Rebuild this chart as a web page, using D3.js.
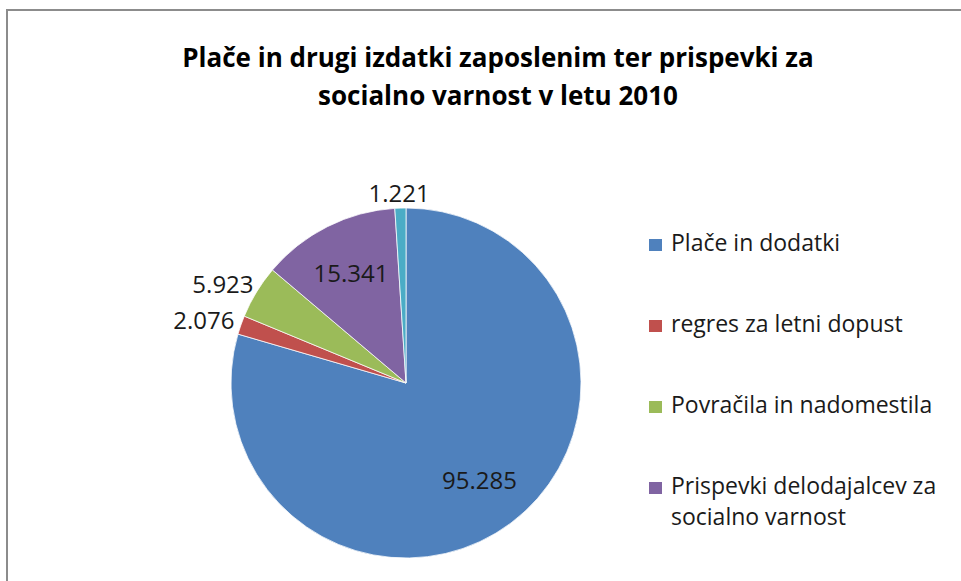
<!DOCTYPE html>
<html>
<head>
<meta charset="utf-8">
<script src="https://cdn.jsdelivr.net/npm/d3@7"></script>
<style>
  body { margin: 0; background: #fff; }
  svg { display: block; font-family: "Open Sans", sans-serif; }
</style>
</head>
<body>
<div class="chart"></div>
<script>
// Data
const titleLines = ["Plače in drugi izdatki zaposlenim ter prispevki za", "socialno varnost v letu 2010"];
const categories = ["Plače in dodatki", "regres za letni dopust", "Povračila in nadomestila", "Prispevki delodajalcev za socialno varnost", "Drugo"];
const values     = [95.285, 2.076, 5.923, 15.341, 1.221];
const labels     = ["95.285", "2.076", "5.923", "15.341", "1.221"];
const colors     = ["#4F81BD", "#C0504D", "#9BBB59", "#8064A2", "#4BACC6"];

const W = 961, H = 581;
const cx = 406, cy = 383, radius = 175;

const svg = d3.select(".chart").append("svg")
    .attr("width", W)
    .attr("height", H);

// chart area border (right/bottom edges fall outside the picture)
svg.append("rect")
    .attr("x", 7).attr("y", 10)
    .attr("width", W + 20).attr("height", H + 20)
    .attr("fill", "#fff")
    .attr("stroke", "#8c8c8c")
    .attr("stroke-width", 2);

// Title
svg.append("g").selectAll("text")
    .data(titleLines)
    .enter().append("text")
    .attr("x", 498)
    .attr("y", (d, i) => 67 + i * 38)
    .attr("text-anchor", "middle")
    .style("font-size", "26px")
    .style("font-weight", "bold")
    .style("fill", "#000")
    .text(d => d);

// Pie
const color = d3.scaleOrdinal().domain(categories).range(colors);
const pie = d3.pie().sort(null).value(d => d.value);
const data = categories.map((c, i) => ({ name: c, value: values[i], label: labels[i] }));
const arcs = pie(data);
const total = d3.sum(values);

const arc = d3.arc().innerRadius(0).outerRadius(radius);

const g = svg.append("g")
    .attr("transform", "translate(" + cx + "," + cy + ")");

g.selectAll("path")
    .data(arcs)
    .enter().append("path")
    .attr("d", arc)
    .attr("fill", d => color(d.data.name))
    .attr("stroke", "#fff")
    .attr("stroke-width", 0.75);

// Data labels: big slices inside, small ones outside
const inArc = d3.arc().innerRadius(radius * 0.7).outerRadius(radius * 0.7);
const outArc = d3.arc().innerRadius(radius * 1.05).outerRadius(radius * 1.05);

g.selectAll(".lbl")
    .data(arcs)
    .enter().append("text")
    .attr("class", "lbl")
    .attr("text-anchor", "middle")
    .attr("dy", "0.35em")
    .style("font-size", "24px")
    .style("fill", "#1a1a1a")
    .text(d => d.data.label)
    .each(function(d) {
        const sel = d3.select(this);
        const inside = d.value / total > 0.1;
        if (inside) {
            const p = inArc.centroid(d);
            sel.attr("x", p[0]).attr("y", p[1]);
        } else {
            const p = outArc.centroid(d);
            const a = (d.startAngle + d.endAngle) / 2;
            const w = this.getComputedTextLength();
            sel.attr("x", p[0] + Math.sin(a) * w / 2)
               .attr("y", p[1] - Math.cos(a) * 6);
        }
    });

// Legend - entries stacked, a wrapped entry pushes the next one down.
// entries that land below the visible area are not drawn (as in the original crop)
const legTop = 251;
const legend = svg.append("g").attr("transform", "translate(649," + legTop + ")");
let legY = 0;
categories.forEach((name, i) => {
    if (legTop + legY > H - 5) return;
    const item = legend.append("g").attr("transform", "translate(0," + legY + ")");
    item.append("rect")
        .attr("x", 0)
        .attr("y", -12)
        .attr("width", 13)
        .attr("height", 12)
        .style("fill", color(name));
    const t = item.append("text")
        .attr("x", 22)
        .attr("y", 0)
        .style("font-size", "23px")
        .style("fill", "#1a1a1a");
    const words = name.split(" ");
    let line = [], lines = 1;
    let tspan = t.append("tspan").attr("x", 22).attr("dy", 0);
    words.forEach(w => {
        line.push(w);
        tspan.text(line.join(" "));
        if (tspan.node().getComputedTextLength() > 280 && line.length > 1) {
            line.pop();
            tspan.text(line.join(" "));
            line = [w];
            lines++;
            tspan = t.append("tspan").attr("x", 22).attr("dy", 31).text(w);
        }
    });
    legY += 81 + (lines - 1) * 31;
});
</script>
</body>
</html>
